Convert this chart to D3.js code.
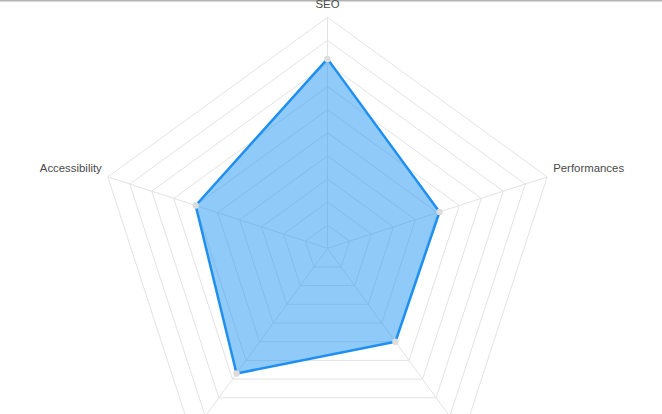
<!DOCTYPE html>
<html>
<head>
<meta charset="utf-8">
<script src="https://cdnjs.cloudflare.com/ajax/libs/d3/7.8.5/d3.min.js"></script>
<style>
  html, body { margin: 0; padding: 0; background: #fff; overflow: hidden; }
  svg { display: block; }
  .axis-label { font-family: "Liberation Sans", Arial, sans-serif; font-size: 11.4px; fill: #4a4a4a; }
</style>
</head>
<body>
<div id="chart"></div>
<script>
const categories = ["SEO", "Performances", "Best Practices", "PWA", "Accessibility"];
const scores = [82, 51, 50, 67, 60];
const maxValue = 100;
const levels = 10;

const width = 662;
const height = 414;
const cx = 327.5;
const cy = 248.3;
const radius = 231;

const svg = d3.select("#chart").append("svg")
    .attr("width", width)
    .attr("height", height);

// thin frame line along the top edge
svg.append("line")
    .attr("x1", 0).attr("x2", width)
    .attr("y1", 0.75).attr("y2", 0.75)
    .attr("stroke", "#b4b4b4")
    .attr("stroke-width", 1.5);

const g = svg.append("g").attr("transform", `translate(${cx},${cy})`);

const rScale = d3.scaleLinear().domain([0, maxValue]).range([0, radius]);
const angle = d3.scaleLinear().domain([0, categories.length]).range([0, Math.PI * 2]);
const point = (i, v) => {
    const a = angle(i) - Math.PI / 2;
    return [Math.cos(a) * rScale(v), Math.sin(a) * rScale(v)];
};

// grid polygons
const ticks = d3.range(1, levels + 1).map(k => k * maxValue / levels);
g.selectAll(".grid")
    .data(ticks)
    .join("polygon")
    .attr("class", "grid")
    .attr("points", t => categories.map((c, i) => point(i, t).join(",")).join(" "))
    .attr("fill", "none")
    .attr("stroke", "#e3e3e3")
    .attr("stroke-width", 1);

// spokes
g.selectAll(".spoke")
    .data(categories)
    .join("line")
    .attr("class", "spoke")
    .attr("x1", 0).attr("y1", 0)
    .attr("x2", (c, i) => point(i, maxValue)[0])
    .attr("y2", (c, i) => point(i, maxValue)[1])
    .attr("stroke", "#e3e3e3")
    .attr("stroke-width", 1);

// series area
const line = d3.line().curve(d3.curveLinearClosed);
const pts = scores.map((v, i) => point(i, v));
g.append("path")
    .attr("d", line(pts))
    .attr("fill", "#2196f3")
    .attr("fill-opacity", 0.5)
    .attr("stroke", "#1f8ff0")
    .attr("stroke-width", 2.5)
    .attr("stroke-linejoin", "round");

// markers
g.selectAll(".marker")
    .data(pts)
    .join("circle")
    .attr("class", "marker")
    .attr("cx", d => d[0])
    .attr("cy", d => d[1])
    .attr("r", 3.2)
    .attr("fill", "#dcdcdc");

// labels (the two bottom ones fall below the visible area, as in the original)
g.selectAll(".axis-label")
    .data(categories)
    .join("text")
    .attr("class", "axis-label")
    .each(function (c, i) {
        const [x, y] = point(i, maxValue);
        const t = d3.select(this).text(c);
        if (Math.abs(x) < 1) {
            t.attr("x", x).attr("y", y - 9.5).attr("text-anchor", "middle");
        } else if (y > 0) {
            t.attr("x", x).attr("y", y + 16).attr("text-anchor", "middle");
        } else if (x > 0) {
            t.attr("x", x + 6).attr("y", y - 4.5).attr("text-anchor", "start");
        } else {
            t.attr("x", x - 6).attr("y", y - 4.5).attr("text-anchor", "end");
        }
    });
</script>
</body>
</html>
